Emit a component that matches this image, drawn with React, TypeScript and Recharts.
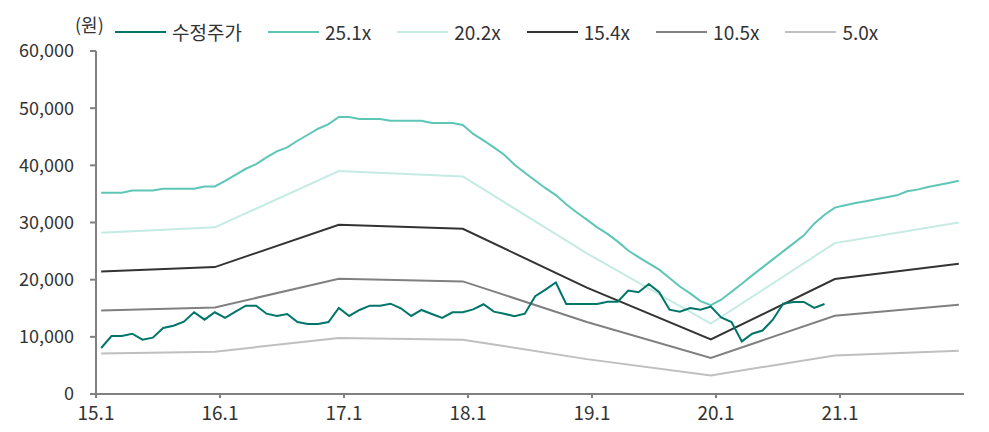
import { LineChart, Line, XAxis, YAxis, Legend } from "recharts";

const FONT = "'Noto Sans CJK KR', 'Noto Sans', sans-serif";

// monthly categories 15.1 ~ 21.12
const years = ["15", "16", "17", "18", "19", "20", "21"];
const months = years.flatMap((y) =>
  Array.from({ length: 12 }, (_, k) => `${y}.${k + 1}`)
);
const yearTicks = ["15.1", "16.1", "17.1", "18.1", "19.1", "20.1", "21.1"];

// 수정주가 (원), 15.1 ~ 20.11
const price = [
  8050, 10150, 10150, 10550, 9500, 9850, 11550, 11950, 12650, 14300, 13000, 14300,
  13300, 14400, 15450, 15450, 14050, 13650, 14000, 12600, 12250, 12250, 12600, 15050,
  13650, 14700, 15450, 15450, 15800, 15000, 13650, 14700, 14000, 13300, 14300, 14300,
  14800, 15700, 14400, 14050, 13600, 14050, 17100, 18250, 19500, 15750, 15750, 15750,
  15750, 16150, 16150, 18100, 17800, 19250, 17800, 14750, 14400, 15050, 14750, 15300,
  13400, 12600, 9200, 10550, 11100, 13000, 15800, 16100, 16100, 15050, 15750,
];

// 25.1x band, monthly
const pe251 = [
  35200, 35200, 35200, 35600, 35600, 35600, 35900, 35900, 35900, 35900, 36300, 36300,
  37300, 38350, 39400, 40200, 41400, 42450, 43150, 44300, 45350, 46400, 47200, 48450,
  48450, 48100, 48100, 48100, 47800, 47800, 47800, 47800, 47400, 47400, 47400, 47050,
  45500, 44350, 43150, 41850, 40100, 38700, 37350, 36000, 34800, 33200, 31800, 30500,
  29150, 28000, 26650, 25100, 23950, 22850, 21750, 20300, 18800, 17600, 16250, 15550,
  16500, 17900, 19300, 20750, 22150, 23550, 24950, 26350, 27750, 29800, 31350, 32600,
  33000, 33400, 33700, 34050, 34400, 34750, 35450, 35750, 36200, 36550, 36900, 37300,
];

// other bands: values at the year-end turning points
const bandMonths = ["15.1", "15.12", "16.12", "17.12", "18.12", "19.12", "20.12", "21.12"];
const pe202 = [28200, 29150, 39000, 38050, 24600, 12300, 26400, 30000];
const pe154 = [21450, 22200, 29600, 28900, 18600, 9550, 20100, 22800];
const pe105 = [14600, 15150, 20150, 19700, 12600, 6300, 13700, 15600];
const pe50 = [7100, 7400, 9800, 9500, 6100, 3250, 6750, 7550];

const series = [
  { key: "price", name: "수정주가", color: "#00766b" },
  { key: "pe251", name: "25.1x", color: "#5ec6b7" },
  { key: "pe202", name: "20.2x", color: "#c4ebe4" },
  { key: "pe154", name: "15.4x", color: "#333333" },
  { key: "pe105", name: "10.5x", color: "#808080" },
  { key: "pe50", name: "5.0x", color: "#bfbfbf" },
];

const data = months.map((m, i) => {
  const k = bandMonths.indexOf(m);
  return {
    month: m,
    x: i + 0.5,
    price: price[i] ?? null,
    pe251: pe251[i],
    pe202: k >= 0 ? pe202[k] : null,
    pe154: k >= 0 ? pe154[k] : null,
    pe105: k >= 0 ? pe105[k] : null,
    pe50: k >= 0 ? pe50[k] : null,
  };
});

function LegendBox() {
  return (
    <div style={{ position: "relative", height: 40, fontFamily: FONT, color: "#333" }}>
      <span style={{ position: "absolute", left: 67, top: 4, fontSize: 18, lineHeight: "24px" }}>
        (원)
      </span>
      <div
        style={{
          position: "absolute",
          left: 107,
          top: 12,
          display: "flex",
          alignItems: "center",
          fontSize: 19,
          lineHeight: "24px",
          whiteSpace: "nowrap",
        }}
      >
        {series.map((s) => (
          <div key={s.key} style={{ display: "flex", alignItems: "center", marginRight: 26 }}>
            <span style={{ width: 51, height: 2, background: s.color, marginRight: 6 }} />
            <span>{s.name}</span>
          </div>
        ))}
      </div>
    </div>
  );
}

export default function App() {
  return (
    <LineChart
      width={973}
      height={416}
      data={data}
      margin={{ top: 43, right: 17, bottom: 0, left: 8 }}
      style={{ fontFamily: FONT }}
    >
      <XAxis
        dataKey="x"
        type="number"
        domain={[0, 84]}
        ticks={[0, 12, 24, 36, 48, 60, 72]}
        interval={0}
        tickFormatter={(v: number) => yearTicks[v / 12]}
        stroke="#808080"
        strokeWidth={2}
        tickSize={4}
        tickMargin={9}
        tick={{ fill: "#333", fontSize: 19, fontFamily: FONT }}
      />
      <YAxis
        width={80}
        domain={[0, 60000]}
        ticks={[0, 10000, 20000, 30000, 40000, 50000, 60000]}
        tickFormatter={(v: number) => v.toLocaleString("en-US")}
        stroke="#808080"
        strokeWidth={2}
        tickSize={6}
        tickMargin={16}
        tick={{ fill: "#333", fontSize: 18, fontFamily: FONT }}
      />
      <Legend
        layout="horizontal"
        verticalAlign="middle"
        align="center"
        wrapperStyle={{ top: 0, left: 0, width: 973 }}
        content={() => <LegendBox />}
      />
      {series
        .slice()
        .reverse()
        .map((s) => (
          <Line
            key={s.key}
            type="linear"
            dataKey={s.key}
            name={s.name}
            stroke={s.color}
            strokeWidth={2}
            dot={false}
            connectNulls
            isAnimationActive={false}
          />
        ))}
    </LineChart>
  );
}
